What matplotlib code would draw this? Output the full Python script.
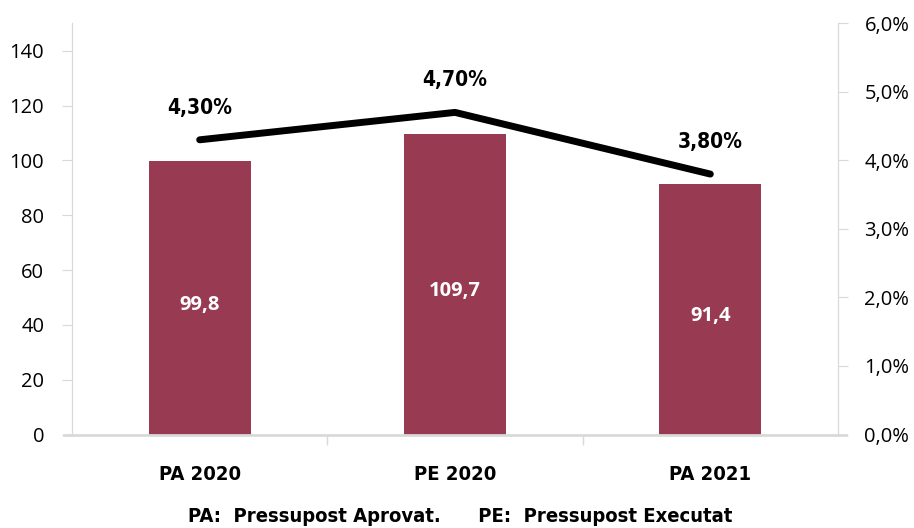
import matplotlib
matplotlib.use("Agg")
import matplotlib.pyplot as plt
from matplotlib.ticker import FuncFormatter

categories = ["PA 2020", "PE 2020", "PA 2021"]
bar_values = [99.8, 109.7, 91.4]
bar_labels = ["99,8", "109,7", "91,4"]
pct_values = [4.30, 4.70, 3.80]
pct_labels = ["4,30%", "4,70%", "3,80%"]
note = "PA:  Pressupost Aprovat.      PE:  Pressupost Executat"

bar_color = "#993A53"
grey = "#D9D9D9"
narrow = dict(family="DejaVu Sans", stretch="condensed", fontweight="bold")
tickfont = ["Open Sans", "DejaVu Sans"]

fig = plt.figure(figsize=(9.14, 5.28), dpi=100)
ax = fig.add_axes([72/914, 1-434.5/528, (838-72)/914, (434.5-23.3)/528])
ax2 = ax.twinx()

x = list(range(len(categories)))
ax.bar(x, bar_values, width=0.4, color=bar_color, zorder=2)
for xi, v, lab in zip(x, bar_values, bar_labels):
    ax.text(xi, v/2 - 2.5, lab, ha="center", va="center", color="white",
            fontsize=14.5, fontweight="bold", family=tickfont)

ax.set_xlim(-0.5, 2.5)
ax.set_ylim(0, 150)
ax.set_yticks(range(0, 141, 20))
ax.set_xticks(x)
ax.set_xticklabels(categories, fontsize=14.5, **narrow)
ax.set_xticks([0.5, 1.5], minor=True)
ax.tick_params(axis="x", which="major", length=0, pad=22)
ax.tick_params(axis="x", which="minor", length=7, color=grey, width=1)
ax.tick_params(axis="y", length=7, color=grey, labelsize=14.5, pad=13)
for lab in ax.get_yticklabels():
    lab.set_family(tickfont)

ax2.plot(x, pct_values, color="black", linewidth=5, solid_capstyle="round",
         solid_joinstyle="round", zorder=3)
for xi, v, lab in zip(x, pct_values, pct_labels):
    ax2.annotate(lab, (xi, v), xytext=(0, 23), textcoords="offset points",
                 ha="center", va="center", fontsize=15, **narrow)
ax2.set_ylim(0, 6)
ax2.set_yticks([0, 1, 2, 3, 4, 5, 6])
ax2.yaxis.set_major_formatter(FuncFormatter(lambda v, p: f"{v:.1f}%".replace(".", ",")))
ax2.tick_params(axis="y", length=7, color=grey, labelsize=14.5, pad=12)
for lab in ax2.get_yticklabels():
    lab.set_family(tickfont)

for a in (ax, ax2):
    a.spines["top"].set_visible(False)
    a.spines["left"].set_color(grey)
    a.spines["right"].set_color(grey)
    a.spines["bottom"].set_color(grey)
    a.spines["bottom"].set_linewidth(2)
ax.spines["bottom"].set_bounds(-0.53, 2.53)
ax2.spines["bottom"].set_visible(False)
ax.spines["bottom"].set_clip_on(False)

fig.text(0.503, 1-516/528, note, ha="center", va="center", fontsize=14.5,
         **narrow)

fig.savefig("out.png", dpi=100)
